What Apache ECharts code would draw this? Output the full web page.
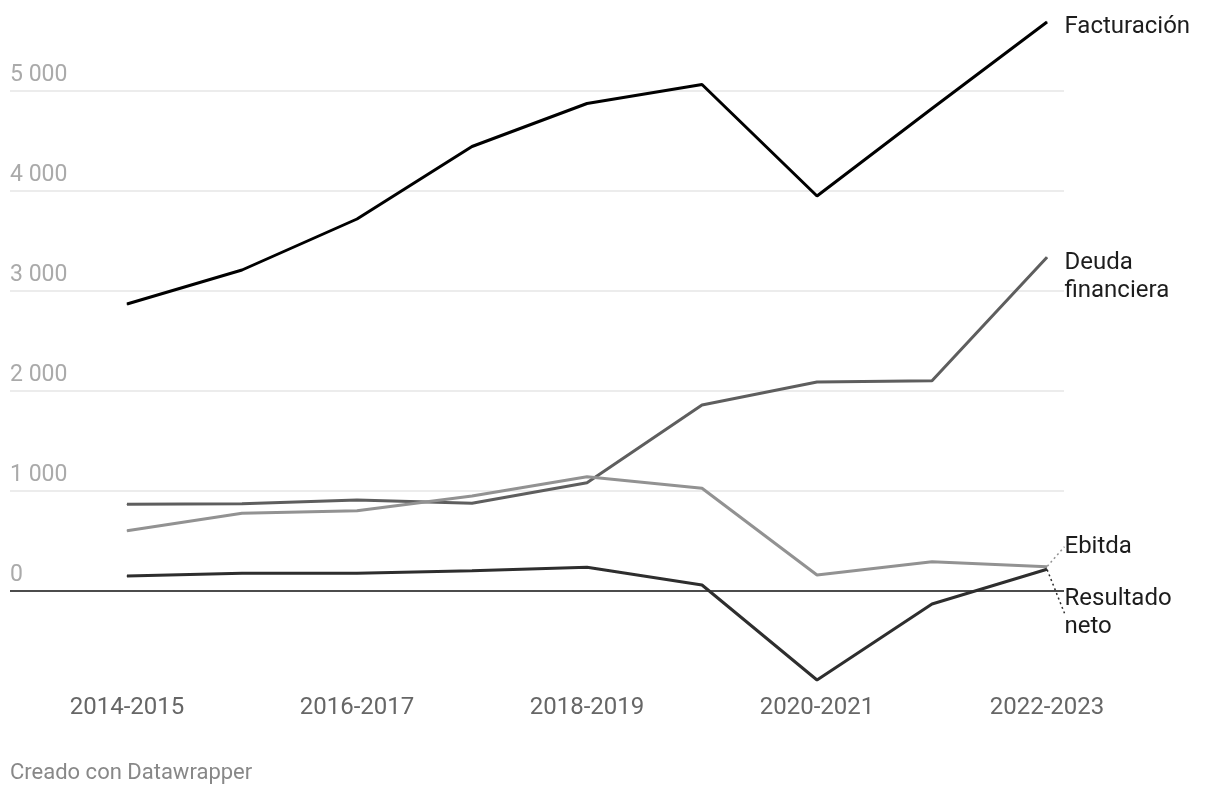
<!DOCTYPE html>
<html>
<head>
<meta charset="utf-8">
<script src="https://cdn.jsdelivr.net/npm/echarts@6/dist/echarts.min.js"></script>
<style>
html,body{margin:0;padding:0;background:#fff;}
#chart{width:1220px;height:796px;}
</style>
</head>
<body>
<div id="chart"></div>
<script>
const categories = ['2014-2015','2015-2016','2016-2017','2017-2018','2018-2019','2019-2020','2020-2021','2021-2022','2022-2023'];
const facturacion = [2865, 3205, 3715, 4440, 4870, 5060, 3945, 4820, 5685];
const deuda = [862, 868, 905, 872, 1078, 1855, 2085, 2098, 3332];
const ebitda = [598, 772, 798, 945, 1138, 1022, 155, 288, 238];
const resultado = [145, 172, 172, 198, 232, 55, -895, -135, 212];
const seriesNames = ['Facturación', 'Deuda\nfinanciera', 'Ebitda', 'Resultado\nneto'];
const yMin = -1000, yMax = 5700, yStep = 1000;
const footer = 'Creado con Datawrapper';

const FONT = 'Roboto, "Noto Sans", sans-serif';
const chart = echarts.init(document.getElementById('chart'), null, {renderer: 'canvas'});

function withEndLabel(values) {
  return values.map((v, i) => i === values.length - 1 ? {value: v, label: {show: true}} : v);
}

function makeSeries(name, values, color, dy, guide) {
  return {
    type: 'line',
    name: name,
    xAxisIndex: 0,
    yAxisIndex: 0,
    data: withEndLabel(values),
    symbol: 'circle',
    symbolSize: 1,
    showSymbol: true,
    itemStyle: {color: color},
    lineStyle: {color: color, width: 3},
    emphasis: {disabled: true},
    label: {
      show: false,
      position: 'right',
      distance: 5,
      formatter: name,
      color: '#1d1d1d',
      fontFamily: FONT,
      fontSize: 24,
      lineHeight: 28
    },
    labelLayout: {dx: 12, dy: dy},
    labelLine: {
      show: guide,
      smooth: 0.4,
      lineStyle: {color: color, width: 1.5, type: [2, 3]}
    },
    z: 3
  };
}

const option = {
  animation: false,
  backgroundColor: '#fff',
  grid: [
    {left: 127, right: 173, top: 20.5, bottom: 105.5, outerBoundsMode: 'none', containLabel: false},
    {left: 10, right: 156, top: 20.5, bottom: 105.5, outerBoundsMode: 'none', containLabel: false}
  ],
  xAxis: [
    {
      type: 'category', gridIndex: 0, data: categories, boundaryGap: false,
      axisLine: {show: false}, axisTick: {show: false}, splitLine: {show: false},
      axisLabel: {interval: 1, color: '#666', fontFamily: FONT, fontSize: 24, margin: 5}
    },
    {
      type: 'value', gridIndex: 1, min: 0, max: 1, show: false
    }
  ],
  yAxis: [
    {
      type: 'value', gridIndex: 0, min: yMin, max: yMax, interval: yStep, show: false
    },
    {
      type: 'value', gridIndex: 1, min: yMin, max: yMax, interval: yStep,
      axisLine: {show: false}, axisTick: {show: false},
      splitLine: {show: true, lineStyle: {color: ['rgba(0,0,0,0)', '#111', '#e6e6e6', '#e6e6e6', '#e6e6e6', '#e6e6e6', '#e6e6e6'], width: 1.6}},
      axisLabel: {
        inside: true, margin: 0, verticalAlign: 'bottom', padding: [0, 0, 4, 0],
        color: '#aaa', fontFamily: FONT, fontSize: 23,
        formatter: v => (v < 0 || v % yStep !== 0) ? '' : String(v).replace(/\B(?=(\d{3})+(?!\d))/g, ' ')
      }
    }
  ],
  series: [
    makeSeries(seriesNames[0], facturacion, '#000000', 5, false),
    makeSeries(seriesNames[1], deuda, '#5e5e5e', 20, false),
    makeSeries(seriesNames[2], ebitda, '#929292', -20, true),
    makeSeries(seriesNames[3], resultado, '#2e2e2e', 44, true)
  ],
  graphic: [
    {type: 'text', left: 10, top: 762, style: {text: footer, fill: '#888', font: '22px ' + FONT}}
  ]
};
chart.setOption(option);
</script>
</body>
</html>
